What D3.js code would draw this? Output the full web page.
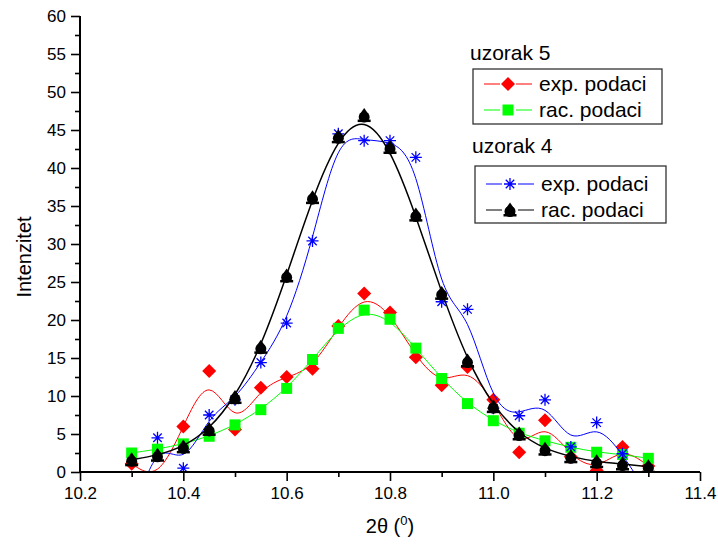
<!DOCTYPE html>
<html>
<head>
<meta charset="utf-8">
<script src="https://cdn.jsdelivr.net/npm/d3@7"></script>
<style>
  body { margin: 0; background: #fff; }
  svg { font-family: "Liberation Sans", Arial, sans-serif; }
</style>
</head>
<body>
<div id="chart-area"></div>
<script>
// 2theta positions
const theta = [10.3, 10.35, 10.4, 10.45, 10.5, 10.55, 10.6, 10.65, 10.7, 10.75, 10.8,
  10.85, 10.9, 10.95, 11.0, 11.05, 11.1, 11.15, 11.2, 11.25, 11.3]

// uzorak 5
const exp5 = [1.1, -1.2, 6.0, 13.3, 5.6, 11.1, 12.5, 13.6, 19.2, 23.5, 21.0,
  15.1, 11.4, 13.8, 9.5, 2.6, 6.8, 2.0, 0.2, 3.3, 0.8]
const rac5 = [2.5, 3.0, 3.7, 4.7, 6.2, 8.2, 11.0, 14.8, 18.9, 21.3, 20.1,
  16.3, 12.3, 9.0, 6.75, 5.1, 4.1, 3.25, 2.6, 2.3, 1.8]

// uzorak 4
const exp4 = [-6.5, 4.5, 0.5, 7.5, 9.5, 14.4, 19.6, 30.4, 44.5, 43.6, 43.6,
  41.4, 22.4, 21.4, 8.4, 7.4, 9.5, 3.3, 6.5, 2.4, -3.0]
const rac4 = [1.6, 2.2, 3.3, 5.6, 9.8, 16.4, 25.8, 36.1, 44.1, 46.9, 42.7,
  33.8, 23.5, 14.6, 8.6, 5.0, 3.0, 2.0, 1.35, 1.05, 0.7]

const xTicks = [10.2, 10.4, 10.6, 10.8, 11.0, 11.2, 11.4]
const yTicks = [0, 5, 10, 15, 20, 25, 30, 35, 40, 45, 50, 55, 60]

const pLeft = 80, pRight = 700, pTop = 16, pBottom = 472

const svg = d3.select("#chart-area").append("svg")
  .attr("width", 718)
  .attr("height", 545)

const x = d3.scaleLinear().domain([10.2, 11.4]).range([pLeft, pRight])
const y = d3.scaleLinear().domain([0, 60]).range([pBottom, pTop])

svg.append("defs").append("clipPath").attr("id", "plot")
  .append("rect")
  .attr("x", pLeft).attr("y", pTop)
  .attr("width", pRight - pLeft).attr("height", pBottom - pTop)

// marker shapes
function diamond(g) {
  g.append("path").attr("d", "M0,-7L7,0L0,7L-7,0Z").attr("fill", "#ff0000")
}
function square(g) {
  g.append("rect").attr("x", -5.5).attr("y", -5.5).attr("width", 11).attr("height", 11)
    .attr("fill", "#00ff00")
}
function star(g) {
  const r = 6
  const d = r * Math.SQRT1_2
  g.append("path")
    .attr("d", `M0,${-r}V${r}M${-r},0H${r}M${-d},${-d}L${d},${d}M${-d},${d}L${d},${-d}`)
    .attr("stroke", "#0000ff").attr("stroke-width", 1.3).attr("fill", "none")
}
function bell(g) {
  g.append("circle").attr("cx", 0).attr("cy", 1.5).attr("r", 5.5).attr("fill", "#000")
  g.append("path").attr("d", "M0,-7.5L4.5,-1L-4.5,-1Z").attr("fill", "#000")
  g.append("rect").attr("x", -6.5).attr("y", 4).attr("width", 13).attr("height", 2.5).attr("fill", "#000")
}

const series = [
  { values: exp5, color: "#ff0000", width: 1, marker: diamond },
  { values: rac5, color: "#00ff00", width: 1, marker: square },
  { values: exp4, color: "#0000ff", width: 1, marker: star },
  { values: rac4, color: "#000000", width: 1.5, marker: bell }
]

const line = d3.line()
  .x(d => x(d[0]))
  .y(d => y(d[1]))
  .curve(d3.curveBasis)

const plot = svg.append("g").attr("clip-path", "url(#plot)")

series.forEach(s => {
  const pts = theta.map((t, i) => [t, s.values[i]])
  plot.append("path")
    .attr("d", line(pts))
    .attr("fill", "none")
    .attr("stroke", s.color)
    .attr("stroke-width", s.width)
  pts.filter(p => p[1] >= 0).forEach(p => {
    const g = plot.append("g").attr("transform", `translate(${x(p[0])},${y(p[1])})`)
    s.marker(g)
  })
})

// axes
const xAxis = svg.append("g")
  .attr("transform", `translate(0,${pBottom})`)
  .call(d3.axisBottom(x).tickValues(xTicks).tickFormat(d3.format(".1f")).tickSize(9).tickPadding(6))
const xMinor = svg.append("g")
  .attr("transform", `translate(0,${pBottom})`)
  .call(d3.axisBottom(x).tickValues(d3.range(10.3, 11.4, 0.2)).tickSize(5).tickFormat(""))

const yAxis = svg.append("g")
  .attr("transform", `translate(${pLeft},0)`)
  .call(d3.axisLeft(y).tickValues(yTicks).tickSize(9).tickPadding(5))
const yMinor = svg.append("g")
  .attr("transform", `translate(${pLeft},0)`)
  .call(d3.axisLeft(y).tickValues(d3.range(2.5, 60, 5)).tickSize(5).tickFormat(""))

xMinor.select(".domain").remove()
yMinor.select(".domain").remove()
svg.selectAll(".domain").attr("stroke", "#000").attr("stroke-width", 2)
svg.selectAll(".tick line").attr("stroke", "#000").attr("stroke-width", 1.6)
svg.selectAll(".tick text").attr("font-size", 17).attr("fill", "#000")
  .attr("font-family", "'Liberation Sans', Arial, sans-serif")
xAxis.select(".domain").attr("d", `M${pLeft},0H${pRight}`)
yAxis.select(".domain").attr("d", `M0,${pBottom}V${pTop}`)

// axis titles
svg.append("text")
  .attr("transform", "translate(31,257) rotate(-90)")
  .attr("text-anchor", "middle")
  .attr("font-size", 20)
  .text("Intenzitet")

const xt = svg.append("text")
  .attr("x", 390).attr("y", 533)
  .attr("text-anchor", "middle")
  .attr("font-size", 20)
xt.append("tspan").text("2θ (")
xt.append("tspan").attr("font-size", 13).attr("dy", -8).text("0")
xt.append("tspan").attr("dy", 8).text(")")

// legends
const legends = [
  { title: "uzorak 5", tx: 470, ty: 60, box: [473, 69, 189, 55], rows: [
    { name: "exp. podaci", s: series[0], ly: 84 },
    { name: "rac. podaci", s: series[1], ly: 110 }], lx: 484, textX: 539 },
  { title: "uzorak 4", tx: 472, ty: 153, box: [475, 166, 191, 57], rows: [
    { name: "exp. podaci", s: series[2], ly: 184 },
    { name: "rac. podaci", s: series[3], ly: 210 }], lx: 486, textX: 541 }
]

legends.forEach(L => {
  svg.append("text").attr("x", L.tx).attr("y", L.ty).attr("font-size", 21).text(L.title)
  svg.append("rect")
    .attr("x", L.box[0]).attr("y", L.box[1])
    .attr("width", L.box[2]).attr("height", L.box[3])
    .attr("fill", "none").attr("stroke", "#333").attr("stroke-width", 1.3)
  L.rows.forEach(r => {
    svg.append("path")
      .attr("d", `M${L.lx},${r.ly}h16M${L.lx + 32},${r.ly}h16`)
      .attr("stroke", r.s.color).attr("stroke-width", 1)
    const g = svg.append("g").attr("transform", `translate(${L.lx + 24},${r.ly})`)
    r.s.marker(g)
    svg.append("text").attr("x", L.textX).attr("y", r.ly + 7).attr("font-size", 21).text(r.name)
  })
})
</script>
</body>
</html>
